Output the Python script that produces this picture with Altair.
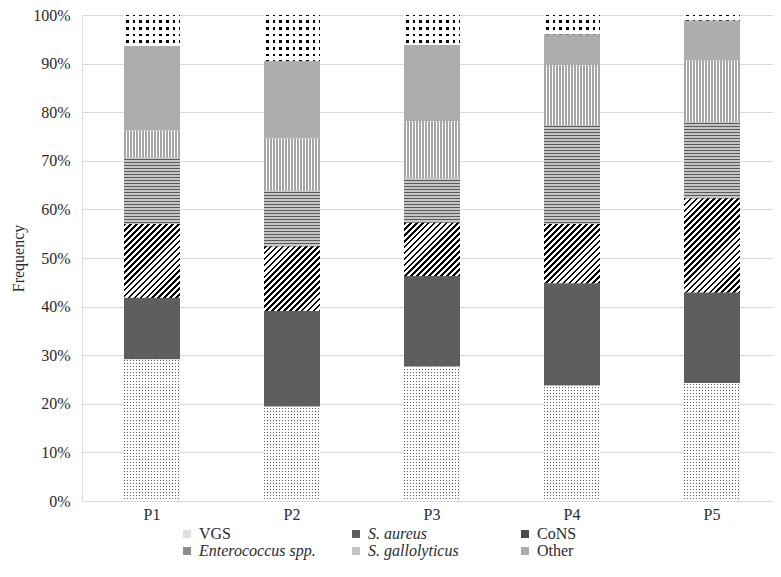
import json
import altair as alt
import pandas as pd

# ---------------- data (percent of isolates per patient group) ----------------
patients = ["P1", "P2", "P3", "P4", "P5"]
organisms = ["VGS", "S. aureus", "CoNS", "Enterococcus spp.", "S. gallolyticus", "Other", "Unlisted"]
vgs = [29.1, 19.4, 27.7, 23.7, 24.3]
s_aureus = [12.7, 19.7, 18.6, 21.1, 18.6]
cons = [15.2, 13.3, 11.0, 12.2, 19.4]
enterococcus = [13.7, 11.5, 9.2, 20.2, 15.7]
s_gallolyticus = [5.6, 10.7, 11.7, 12.5, 12.6]
other = [17.4, 15.9, 15.7, 6.3, 8.2]
unlisted = [6.3, 9.5, 6.1, 4.0, 1.2]
y_ticks = [0, 0.1, 0.2, 0.3, 0.4, 0.5, 0.6, 0.7, 0.8, 0.9, 1.0]
legend_items = ["VGS", "S. aureus", "CoNS", "Enterococcus spp.", "S. gallolyticus", "Other"]

series = [vgs, s_aureus, cons, enterococcus, s_gallolyticus, other, unlisted]
rows = []
for oi, (org, vals) in enumerate(zip(organisms, series)):
    for p, v in zip(patients, vals):
        rows.append({"patient": p, "organism": org, "order": oi, "share": v / 100.0})
df = pd.DataFrame(rows)

# ---------------- style ----------------
FONT = "Liberation Serif, DejaVu Serif, serif"
TXT = "#2b2b2b"
PLOT_W, PLOT_H = 691, 486
BAR_W = 56
CLEAR = "rgba(255,255,255,0)"
solid = ["#dedede", "#5e5e5e", "#4a4a4a", "#8c8c8c", "#c4c4c4", "#adadab", "#ffffff"]


def make_stops(bands, period):
    out = []
    t = 0.0
    while t < 1 - 1e-9:
        for color, frac in bands:
            t2 = min(1.0, t + frac * period)
            out.append({"offset": round(t, 5), "color": color})
            out.append({"offset": round(t2, 5), "color": color})
            t = t2
            if t >= 1 - 1e-9:
                break
    return out


def cols_gradient(bands, px_period):
    return {"gradient": "linear", "x1": 0, "y1": 0, "x2": 1, "y2": 0,
            "stops": make_stops(bands, px_period / BAR_W)}


def rows_expr(bands, px_period, n, aligned=True):
    span = px_period * n
    stops = json.dumps(make_stops(bands, 1.0 / n))
    off = "datum.off3" if aligned else "0"
    return ('{"gradient": "linear", "x1": 0, "y1": -%s / datum.hpx, "x2": 0, '
            '"y2": (%s - %s) / datum.hpx, "stops": %s}' % (off, span, off, stops))


def diag_expr(bands, n):
    stops = json.dumps(make_stops(bands, 1.0 / n))
    return ('{"gradient": "linear", "x1": 0, "y1": 0, "x2": datum.gx, "y2": datum.gy, "stops": %s}'
            % stops)


DIAG_P, DIAG_N = 4.2, 28
DIAG_SPAN = DIAG_P * DIAG_N

xenc = alt.X(
    "patient:N", sort=patients,
    scale=alt.Scale(range=[0, 700], paddingInner=0.6, paddingOuter=0.3),
    axis=alt.Axis(title=None, labelAngle=0, ticks=False, domain=True, domainColor="#d9d9d9",
                  grid=False, labelFont=FONT, labelFontSize=16, labelColor=TXT, labelPadding=5),
)
yenc = alt.Y(
    "y0:Q",
    scale=alt.Scale(domain=[0, 1], nice=False),
    axis=alt.Axis(values=y_ticks, format=".0%", title="Frequency", ticks=False, domain=False,
                  grid=True, gridColor="#d9d9d9", labelFont=FONT, labelFontSize=16,
                  labelColor=TXT, labelPadding=12, titleFont=FONT, titleFontSize=16,
                  titleFontWeight="normal", titleColor=TXT, titlePadding=6),
)
y2enc = alt.Y2("y1:Q")

base = alt.Chart().mark_bar().encode(
    x=xenc, y=yenc, y2=y2enc,
    color=alt.Color(
        "organism:N",
        scale=alt.Scale(domain=organisms, range=solid),
        legend=alt.Legend(
            values=legend_items, orient="none", legendX=97, legendY=511, columns=3,
            direction="horizontal", gridAlign="all", columnPadding=32, rowPadding=1,
            symbolType="square", symbolSize=64, symbolStrokeWidth=0, labelFont=FONT,
            labelFontSize=16, labelColor=TXT, labelOffset=4, labelLimit=0, title=None,
            labelFontStyle=alt.ExprRef(
                "datum.label == 'VGS' || datum.label == 'CoNS' || datum.label == 'Other' ? 'normal' : 'italic'"
            ),
        ),
    ),
)


def pat_expr(org, expr):
    return alt.Chart().transform_filter(alt.datum.organism == org).mark_bar().encode(
        x=xenc, y=yenc, y2=y2enc, fill={"value": {"expr": expr}}
    )


def pat_mark(org, grad):
    return alt.Chart().transform_filter(alt.datum.organism == org).mark_bar(fill=grad).encode(
        x=xenc, y=yenc, y2=y2enc
    )


layers = [
    base,
    pat_expr("VGS", rows_expr([("#5a5a5a", 1 / 3), ("#ffffff", 2 / 3)], 3.0, 50)),
    pat_mark("VGS", cols_gradient([(CLEAR, 1 / 3), ("#ffffff", 2 / 3)], 3.0)),
    pat_expr("CoNS", diag_expr([("#000000", 0.45), ("#ffffff", 0.55)], DIAG_N)),
    pat_expr("Enterococcus spp.", rows_expr([("#5a5a5a", 1 / 3), ("#c6c6c6", 2 / 3)], 3.0, 35)),
    pat_mark("S. gallolyticus", cols_gradient([("#a6a6a6", 2 / 3), ("#ffffff", 1 / 3)], 3.0)),
    pat_expr("Unlisted", rows_expr([("#000000", 0.22), ("#ffffff", 0.56), ("#000000", 0.22)], 6.67, 8, aligned=False)),
    pat_mark("Unlisted", cols_gradient([("#ffffff", 0.28), (CLEAR, 0.44), ("#ffffff", 0.28)], 6.67)),
]

chart = (
    alt.layer(*layers, data=df)
    .transform_stack(stack="share", groupby=["patient"], as_=["y0", "y1"],
                     sort=[alt.SortField("order", order="ascending")])
    .transform_calculate(hpx=f"(datum.y1 - datum.y0) * {PLOT_H}",
                         off3=f"((1 - datum.y1) * {PLOT_H}) % 3")
    .transform_calculate(gs=f"{DIAG_SPAN} * sqrt(2) / ({BAR_W} / datum.hpx + datum.hpx / {BAR_W})")
    .transform_calculate(gx="datum.gs / datum.hpx", gy=f"datum.gs / {BAR_W}")
    .properties(width=PLOT_W, height=PLOT_H,
                padding={"left": 74, "top": 7, "right": 0, "bottom": 62},
                autosize=alt.AutoSizeParams(type="none"))
    .configure_view(stroke=None)
    .configure(background="white", font=FONT)
)

chart.save("out.html", embed_options={"renderer": "svg", "actions": False})
